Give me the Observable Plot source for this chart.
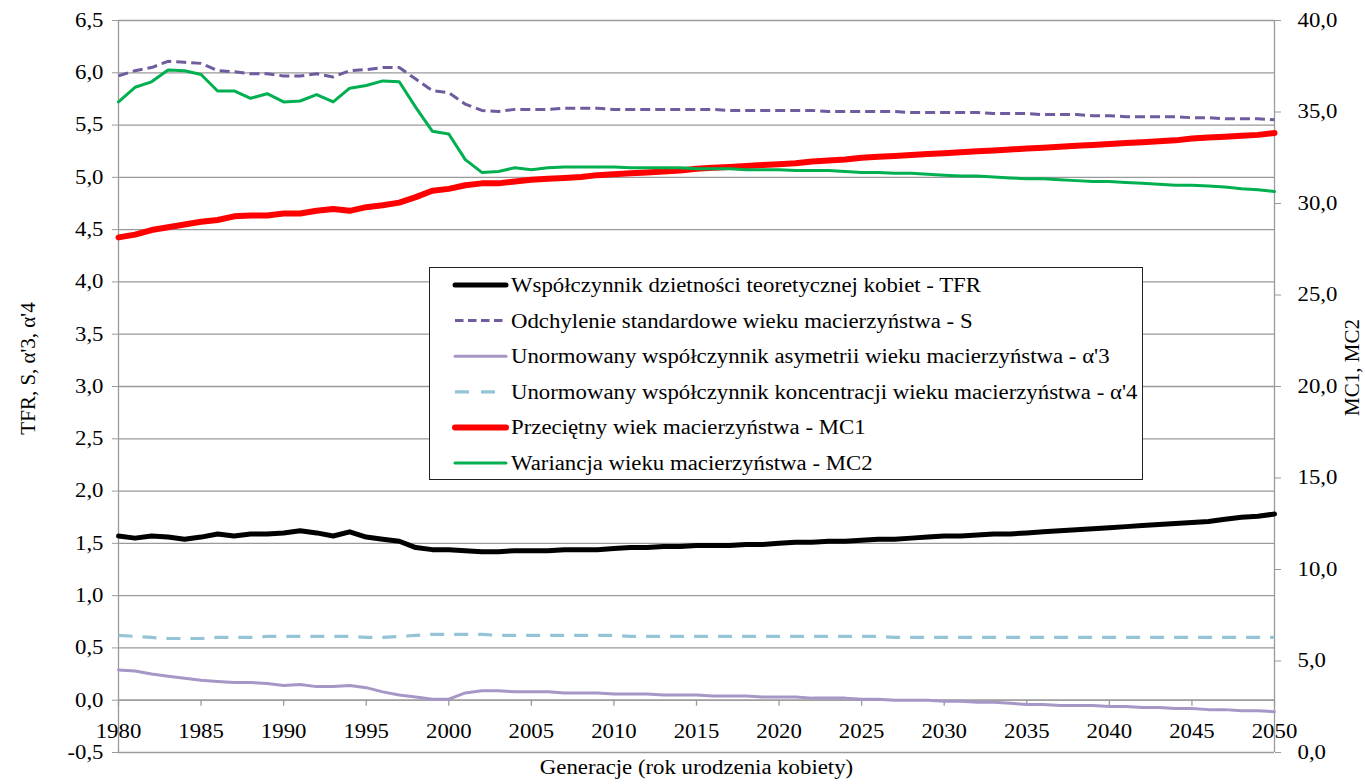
<!DOCTYPE html>
<html>
<head>
<meta charset="utf-8">
<script src="https://cdn.jsdelivr.net/npm/d3@7"></script>
<script src="https://cdn.jsdelivr.net/npm/@observablehq/plot@0.6"></script>
<style>
  html, body { margin: 0; padding: 0; background: #fff; }
  #wrap { position: relative; width: 1365px; height: 784px; overflow: hidden; }
  #legend { position: absolute; border: 1px solid #222; background: #fff; }
  #wrap svg, #wrap svg text { font-family: "Liberation Serif", "Tinos", "Times New Roman", "Times", "Nimbus Roman", "DejaVu Serif", serif !important; }
</style>
</head>
<body>
<div id="wrap"></div>
<script>
// ---- data ----
const years = d3.range(1980, 2051);
const tfr = [
  1.57, 1.55, 1.57, 1.56, 1.54, 1.56, 1.59, 1.57, 1.59, 1.59,
  1.60, 1.62, 1.60, 1.57, 1.61, 1.56, 1.54, 1.52, 1.46, 1.44,
  1.44, 1.43, 1.42, 1.42, 1.43, 1.43, 1.43, 1.44, 1.44, 1.44,
  1.45, 1.46, 1.46, 1.47, 1.47, 1.48, 1.48, 1.48, 1.49, 1.49,
  1.50, 1.51, 1.51, 1.52, 1.52, 1.53, 1.54, 1.54, 1.55, 1.56,
  1.57, 1.57, 1.58, 1.59, 1.59, 1.60, 1.61, 1.62, 1.63, 1.64,
  1.65, 1.66, 1.67, 1.68, 1.69, 1.70, 1.71, 1.73, 1.75, 1.76,
  1.78
];
const sdev = [
  5.97, 6.02, 6.05, 6.11, 6.10, 6.09, 6.02, 6.01, 5.99, 5.99,
  5.97, 5.97, 5.99, 5.96, 6.02, 6.03, 6.05, 6.05, 5.94, 5.83,
  5.81, 5.70, 5.64, 5.63, 5.65, 5.65, 5.65, 5.66, 5.66, 5.66,
  5.65, 5.65, 5.65, 5.65, 5.65, 5.65, 5.65, 5.64, 5.64, 5.64,
  5.64, 5.64, 5.64, 5.63, 5.63, 5.63, 5.63, 5.63, 5.62, 5.62,
  5.62, 5.62, 5.62, 5.61, 5.61, 5.61, 5.60, 5.60, 5.60, 5.59,
  5.59, 5.58, 5.58, 5.58, 5.58, 5.57, 5.57, 5.56, 5.56, 5.56,
  5.55
];
const alpha3 = [
  0.29, 0.28, 0.25, 0.23, 0.21, 0.19, 0.18, 0.17, 0.17, 0.16,
  0.14, 0.15, 0.13, 0.13, 0.14, 0.12, 0.08, 0.05, 0.03, 0.01,
  0.01, 0.07, 0.09, 0.09, 0.08, 0.08, 0.08, 0.07, 0.07, 0.07,
  0.06, 0.06, 0.06, 0.05, 0.05, 0.05, 0.04, 0.04, 0.04, 0.03,
  0.03, 0.03, 0.02, 0.02, 0.02, 0.01, 0.01, 0.00, 0.00, 0.00,
  -0.01, -0.01, -0.02, -0.02, -0.03, -0.04, -0.04, -0.05, -0.05, -0.05,
  -0.06, -0.06, -0.07, -0.07, -0.08, -0.08, -0.09, -0.09, -0.10, -0.10,
  -0.11
];
const alpha4 = [
  0.62, 0.61, 0.60, 0.59, 0.59, 0.59, 0.60, 0.60, 0.60, 0.61,
  0.61, 0.61, 0.61, 0.61, 0.61, 0.60, 0.60, 0.61, 0.62, 0.63,
  0.63, 0.63, 0.63, 0.62, 0.62, 0.62, 0.62, 0.62, 0.62, 0.62,
  0.62, 0.61, 0.61, 0.61, 0.61, 0.61, 0.61, 0.61, 0.61, 0.61,
  0.61, 0.61, 0.61, 0.61, 0.61, 0.61, 0.61, 0.60, 0.60, 0.60,
  0.60, 0.60, 0.60, 0.60, 0.60, 0.60, 0.60, 0.60, 0.60, 0.60,
  0.60, 0.60, 0.60, 0.60, 0.60, 0.60, 0.60, 0.60, 0.60, 0.60,
  0.60
];
const mc1 = [
  28.15, 28.30, 28.55, 28.70, 28.85, 29.00, 29.10, 29.30, 29.35, 29.35,
  29.45, 29.45, 29.60, 29.70, 29.60, 29.80, 29.90, 30.05, 30.35, 30.70,
  30.80, 31.00, 31.10, 31.10, 31.20, 31.30, 31.35, 31.40, 31.45, 31.55,
  31.60, 31.65, 31.70, 31.75, 31.80, 31.90, 31.95, 32.00, 32.05, 32.10,
  32.15, 32.20, 32.30, 32.35, 32.40, 32.50, 32.55, 32.60, 32.65, 32.70,
  32.75, 32.80, 32.85, 32.90, 32.95, 33.00, 33.05, 33.10, 33.15, 33.20,
  33.25, 33.30, 33.35, 33.40, 33.45, 33.55, 33.60, 33.65, 33.70, 33.75,
  33.85
];
const mc2 = [
  35.55, 36.35, 36.65, 37.30, 37.25, 37.05, 36.15, 36.15, 35.75, 36.00,
  35.55, 35.60, 35.95, 35.55, 36.30, 36.45, 36.70, 36.65, 35.25, 33.95,
  33.80, 32.40, 31.70, 31.75, 31.95, 31.85, 31.95, 32.00, 32.00, 32.00,
  32.00, 31.95, 31.95, 31.95, 31.95, 31.90, 31.90, 31.90, 31.85, 31.85,
  31.85, 31.80, 31.80, 31.80, 31.75, 31.70, 31.70, 31.65, 31.65, 31.60,
  31.55, 31.50, 31.50, 31.45, 31.40, 31.35, 31.35, 31.30, 31.25, 31.20,
  31.20, 31.15, 31.10, 31.05, 31.00, 31.00, 30.95, 30.90, 30.80, 30.75,
  30.65
];
const leftTicks = [-0.5, 0, 0.5, 1, 1.5, 2, 2.5, 3, 3.5, 4, 4.5, 5, 5.5, 6, 6.5];
const rightTicks = [0, 5, 10, 15, 20, 25, 30, 35, 40];
const xTicks = [1980, 1985, 1990, 1995, 2000, 2005, 2010, 2015, 2020, 2025, 2030, 2035, 2040, 2045, 2050];
const seriesNames = [
  "Współczynnik dzietności teoretycznej kobiet - TFR",
  "Odchylenie standardowe wieku macierzyństwa - S",
  "Unormowany współczynnik asymetrii wieku macierzyństwa - α'3",
  "Unormowany współczynnik koncentracji wieku macierzyństwa - α'4",
  "Przeciętny wiek macierzyństwa - MC1",
  "Wariancja wieku macierzyństwa - MC2"
];
const yLabelLeft = "TFR, S, α'3, α'4";
const yLabelRight = "MC1, MC2";
const xLabel = "Generacje (rok urodzenia kobiety)";

// ---- styles ----
const styles = [
  {stroke: "#000000", strokeWidth: 5, dash: null, legendDash: null},
  {stroke: "#6E5C9E", strokeWidth: 3, dash: "10,5", legendDash: "8.5,4.5"},
  {stroke: "#A797C6", strokeWidth: 3, dash: null, legendDash: null},
  {stroke: "#94C4D6", strokeWidth: 3.2, dash: "14,10", legendDash: "14,12"},
  {stroke: "#FF0000", strokeWidth: 6, dash: null, legendDash: null},
  {stroke: "#00B050", strokeWidth: 3, dash: null, legendDash: null}
];
const FONT = "'Liberation Serif', 'Tinos', 'Times New Roman', Times, 'DejaVu Serif', serif";
const W = 1365, H = 784;
const mL = 118, mR = 91, mT = 20, mB = 32;
const leftDomain = [-0.5, 6.5], rightDomain = [0, 40];
const rightToLeft = d3.scaleLinear(rightDomain, leftDomain);
const fmt = v => (Math.round(v * 10) / 10).toFixed(1).replace(".", ",");

const rows = years.map((yr, i) => ({
  year: yr, tfr: tfr[i], sdev: sdev[i], a3: alpha3[i], a4: alpha4[i],
  mc1: rightToLeft(mc1[i]), mc2: rightToLeft(mc2[i])
}));
const keys = ["tfr", "sdev", "a3", "a4", "mc1", "mc2"];
const grid = "#9a9a9a";

const lineMarks = keys.map((k, i) => Plot.line(rows, {
  x: "year", y: k,
  stroke: styles[i].stroke, strokeWidth: styles[i].strokeWidth,
  strokeDasharray: styles[i].dash, strokeLinejoin: "round", strokeLinecap: styles[i].dash ? "butt" : "round"
}));

const chart = Plot.plot({
  width: W, height: H,
  marginLeft: mL, marginRight: mR, marginTop: mT, marginBottom: mB,
  style: {fontFamily: FONT, fontSize: "20px", color: "#000", background: "#fff", overflow: "visible"},
  x: {domain: [1980, 2050], axis: null},
  y: {domain: leftDomain, axis: null},
  marks: [
    Plot.gridY(leftTicks, {stroke: grid, strokeOpacity: 1, strokeWidth: 1.3}),
    Plot.ruleX([1980, 2050], {stroke: grid, strokeWidth: 1.3}),
    Plot.ruleY([0], {stroke: grid, strokeWidth: 1.3}),
    Plot.axisY(leftTicks, {anchor: "left", tickSize: 6, tickPadding: 9, tickFormat: fmt, stroke: grid, label: null}),
    Plot.axisY(rightTicks.map(rightToLeft), {anchor: "right", tickSize: 6, tickPadding: 17, tickFormat: v => fmt(rightToLeft.invert(v)), stroke: grid, label: null}),
    // x ticks hanging below the zero line
    Plot.ruleX(xTicks, {x: d => d, y1: 0, y2: 0, insetBottom: -6, stroke: grid, strokeWidth: 1.3}),
    Plot.text(xTicks, {x: d => d, y: 0, dy: 31, lineAnchor: "middle", text: d => String(d), fontSize: 20}),
    ...lineMarks,
    Plot.text([xLabel], {frameAnchor: "bottom", dy: 21, fontSize: 20}),
    Plot.text([yLabelLeft], {frameAnchor: "left", textAnchor: "middle", rotate: -90, dx: -90, dy: -18, fontSize: 21}),
    Plot.text([yLabelRight], {frameAnchor: "right", textAnchor: "middle", rotate: -90, dx: 78, dy: -19, fontSize: 21})
  ]
});

const wrap = document.getElementById("wrap");
wrap.appendChild(chart);

// ---- legend ----
const LW = 712, LH = 211;
const lg = d3.select(wrap).append("div").attr("id", "legend")
  .style("left", "429px").style("top", "267px").style("width", LW + "px").style("height", LH + "px");
const lsvg = lg.append("svg").attr("width", LW).attr("height", LH)
  .style("font-family", FONT).style("font-size", "20px");
seriesNames.forEach((name, i) => {
  const y = 17 + i * 35.6;
  lsvg.append("line").attr("x1", 25).attr("x2", 76).attr("y1", y).attr("y2", y)
    .attr("stroke", styles[i].stroke).attr("stroke-width", styles[i].strokeWidth)
    .attr("stroke-dasharray", styles[i].legendDash)
    .attr("stroke-linecap", styles[i].legendDash ? "butt" : "round");
  lsvg.append("text").attr("x", 81).attr("y", y).attr("dy", "0.35em").text(name);
});

// horizontal stretch of text to mimic the reference's wide serif rendering
function stretch(root, k) {
  root.querySelectorAll("text").forEach(t => {
    let tr = t.getAttribute("transform") || "";
    if (t.parentNode && t.parentNode.getAttribute) tr += t.parentNode.getAttribute("transform") || "";
    if (tr.includes("rotate")) return;
    const L = t.getComputedTextLength();
    if (L > 0) {
      t.setAttribute("textLength", (L * k).toFixed(1));
      t.setAttribute("lengthAdjust", "spacingAndGlyphs");
    }
  });
}
stretch(chart, 1.14);
stretch(lsvg.node(), 1.14);
</script>
</body>
</html>
